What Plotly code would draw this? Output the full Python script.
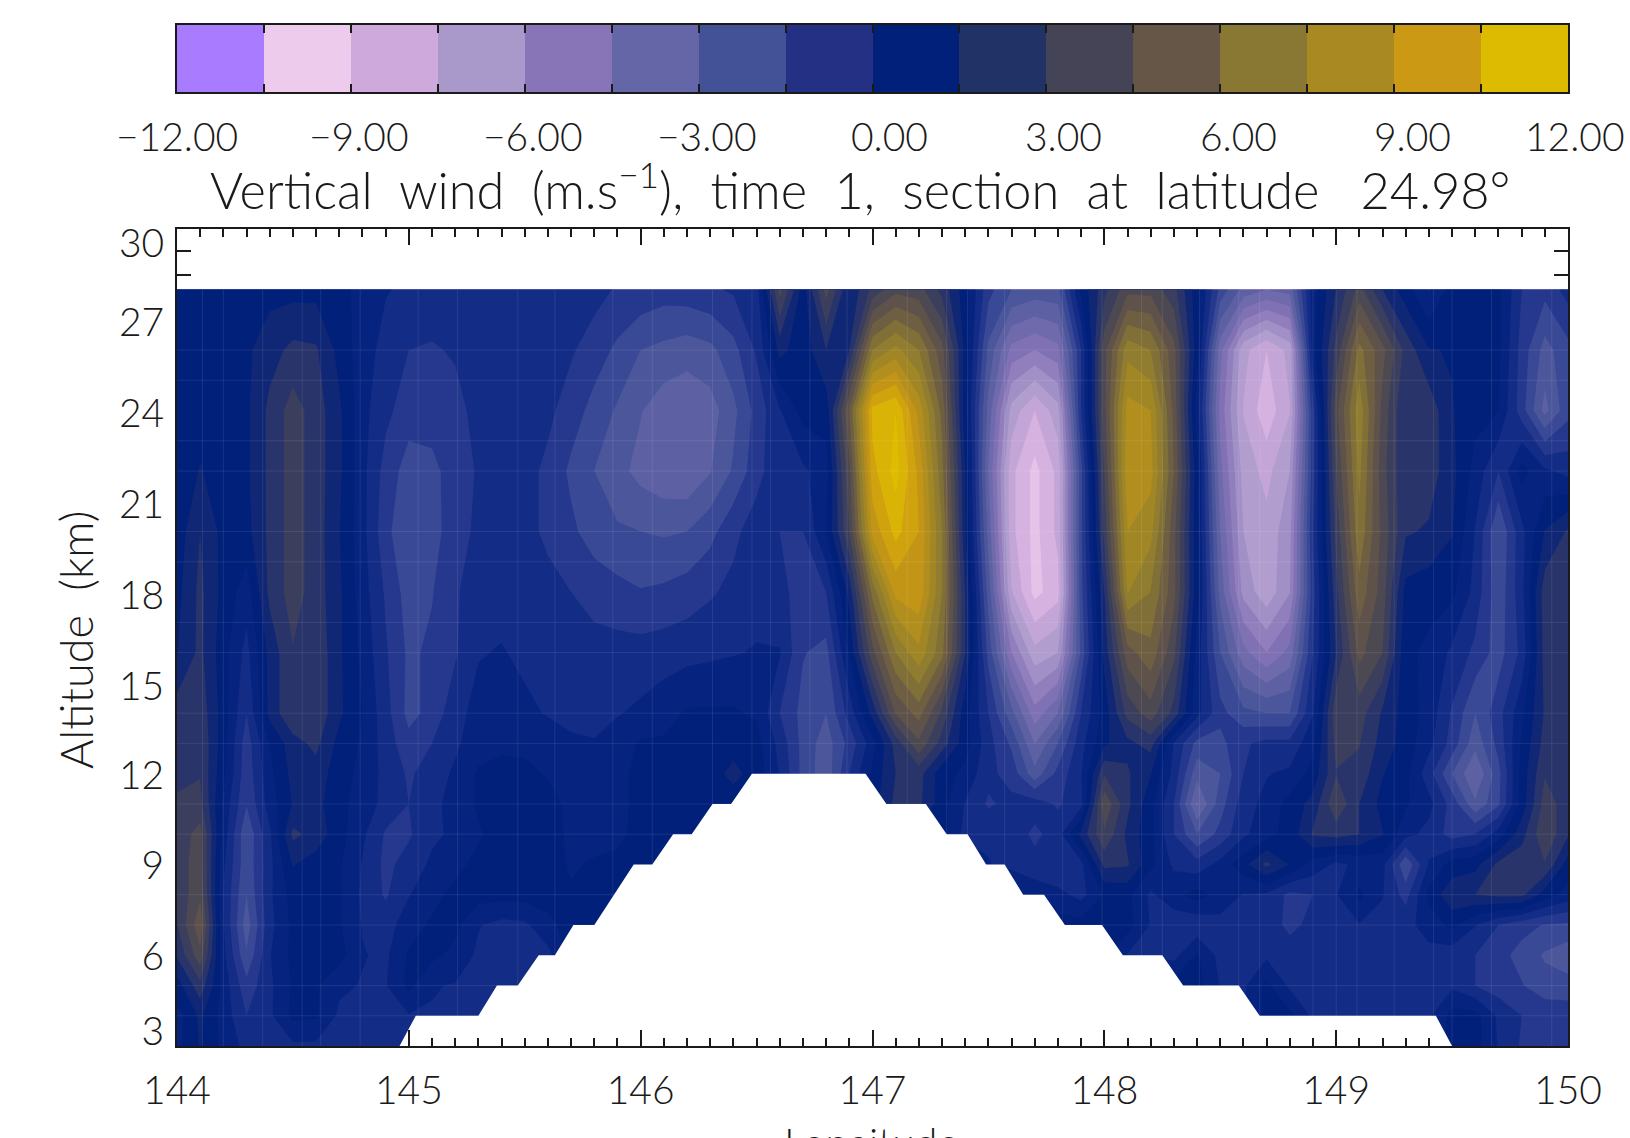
import plotly.graph_objects as go

# ---------------- data (vertical wind, m/s), one row per altitude, lon 144.0 .. 150.0 by 0.1 ----------------
longitudes = [round(144 + i * 0.1, 1) for i in range(61)]
altitudes = [3, 4, 5, 6, 7, 8, 9, 10, 11, 12, 13, 14, 16, 18, 20, 22, 24, 26, 28]

w_03 = [-.2,.8,-.2,-1,-.9,-.9,-.9,-.9,-.9,-.9,
        -.9,-.9,-.9,-.9,-.9,-.9,-.9,-.9,-.9,-.9,
        -.9,-.9,-.9,-.9,-.9,-.9,-.9,-.9,-.9,-.9,
        -.9,-.9,-.9,-.9,-.9,-.9,-.9,-.9,-.9,-.9,
        -.9,-.9,-.9,-.9,-.9,-.9,-.9,-.9,-.9,-.9,
        -.9,-.9,-.9,-.9,-.9,.3,.3,-.8,-1.6,-1.6,-1.6]
w_04 = [-.3,.9,-.3,-1.5,-.9,.2,.1,-.9,-.9,-.9,
        -.8,-.8,-.8,-.8,-.8,-.8,-.8,-.8,-.8,-.8,
        -.8,-.8,-.8,-.8,-.8,-.8,-.8,-.8,-.8,-.8,
        -.8,-.8,-.8,-.8,-.8,-.8,-.8,-.8,-.8,-.8,
        -.8,-.8,-.8,-.8,-.8,-.8,-.8,.2,.2,-.9,
        -1,-1,-1,-1,-.9,.3,.3,-.9,-1.5,-1.7,-1.8]
w_05 = [.4,2,-.3,-2,-.9,.1,.1,-.6,-.8,-.8,
        .2,-.7,-.8,-.9,-.9,-.9,-.9,.3,.3,.3,
        .3,.3,.3,.3,.3,.3,.3,.3,.3,.3,
        .3,.3,.3,.3,.3,.3,.3,.3,.3,.3,
        .3,.3,.3,.3,.3,-.8,-.9,.2,-.9,-1,
        -1,-1,-1,-1,-1.5,-.9,-1.5,-1.9,-2.2,-2.7,-2.7]
w_06 = [1.6,3.5,-.5,-2.9,-.8,.2,.1,.3,-.7,-.9,
        .1,.2,-.2,-.9,-1,-1,-1,.3,.3,.3,
        .3,.3,.3,.3,.3,.3,.3,.3,.3,.3,
        .3,.3,.3,.3,.3,.3,.3,.3,.3,.3,
        .3,-.8,-.8,-1,.1,-1,-.9,-.9,-1.1,-1.1,
        -1,-1,-1,-1,-1,-1.2,-1.5,-2,-2.5,-3.1,-3.5]
w_07 = [2.2,4.3,-.7,-3.4,-1,.2,.1,.1,-.8,-1.1,
        -.3,.1,.2,-.7,-1,-.9,-.2,.3,.3,.3,
        .3,.3,.3,.3,.3,.3,.3,.3,.3,.3,
        .3,.3,.3,.3,.3,.3,.3,.3,.3,.3,
        .3,.3,-.8,-1.3,-1.3,-1,-.9,-1.1,-1.7,-1.3,
        -1,-.8,-1,-1,-.4,.2,-.7,-1.5,-2,-2.3,-2.4]
w_08 = [2.4,3.6,-.8,-3,-.9,.3,.2,.1,-.9,-1.6,
        -.8,-.2,.2,.3,.3,.3,.3,.1,.3,.3,
        .3,.3,.3,.3,.3,.3,.3,.3,.3,.3,
        .3,.3,.3,.3,.3,.3,.3,-.3,-.5,-1,
        .1,.2,-.9,-.2,.3,-.3,-.8,-.9,-1.7,-1.5,
        -.8,.2,-.7,-1.8,.2,1.3,1.5,1.7,1.7,.4,-.3]
w_09 = [2.6,3.4,-.6,-2.8,-1,.8,.4,.1,-.8,-1.7,
        -1.2,-.6,-.2,.2,.4,.5,.4,-.1,.1,.2,
        .3,.3,.3,.3,.3,.3,.3,.3,.3,.3,
        .3,.3,.3,.3,.3,-.7,-1,-1.2,-1.5,-1,
        1.7,1.6,.2,-.9,-1.2,-.5,.5,1.7,.7,-.3,
        -.9,-.6,-.5,-2.9,-.7,.3,.5,1.7,2,2.2,.4]
w_10 = [2.5,3.3,-.3,-2.9,-.9,1.7,1.2,.3,-.6,-1.6,
        -1.6,-.9,-.6,-.1,.4,.5,.4,-.2,-.3,-.2,
        .3,.3,.3,.3,.3,.3,.3,.3,.3,.3,
        .3,.3,.3,.3,-1,-.9,-1,-1.7,-1.1,1,
        2.9,1.3,.2,-1.5,-3,-2,-.9,-.3,.3,1.6,
        1.8,1.5,.8,-.5,-1,-1.8,-1.5,-.4,1.2,2.9,1.6]
w_11 = [2.4,2.5,-.2,-2.2,-.4,.8,1,.2,-.3,-1,
        -1.5,-1,-.4,.1,.4,.5,.4,-.3,-.4,-.2,
        .2,.4,.3,.3,.3,.3,.3,.3,.3,.3,
        .4,1.7,1.7,.3,-.8,-1.6,-1.3,-1.1,-1.6,-1,
        3.6,1.7,.2,-1.5,-4.6,-2.6,-1.1,-.5,.3,1,
        2.9,1.5,.5,.1,-.5,-1.8,-3.6,-2.4,.3,2.6,1.9]
w_12 = [2,2.2,.2,-2,-.2,1,1.2,.3,-.2,-1,
        -1.6,-1.2,-.6,.1,.3,.3,-.1,-.4,-.5,-.2,
        .2,.4,.3,.4,1,.4,-.8,-2.5,-3.5,-1.5,
        .2,1.5,1.8,.3,-.2,-1.3,-1.8,-3.5,-2,-.8,
        2.2,1.6,.8,-1,-3.5,-3,-1.5,-.8,-.6,.3,
        2.2,2,.8,.2,-1.2,-3,-4.5,-2.5,.3,2.2,1.8]
w_13 = [2,2.2,.3,-1.9,0,1.2,1.7,.5,-.1,-1.1,
        -2,-1.5,-.9,-.3,-.2,-.3,-.4,-.6,-.7,-.4,
        .1,.1,.2,.3,.4,.3,-1,-2.5,-3.4,-2,
        -.3,1.8,3.6,1.9,.3,-1.2,-2.4,-4.5,-3,-1,
        .6,1.3,1.8,-.8,-2.5,-2.5,-1.6,-1.3,-1.3,-.2,
        2.5,2.3,1.2,.4,-.5,-1.8,-3.5,-2,.1,1.8,2]
w_14 = [1.9,2,.4,-1.5,1,2.2,2.1,.9,0,-1.2,
        -2.5,-2,-1,-.5,-.5,-.6,-.8,-1,-1,-.8,
        -.6,-.3,.1,.1,.1,-.1,-1.5,-2.5,-3,-1.2,
        1,3.8,4.8,2.8,.3,-1.5,-3.5,-5.7,-4.5,-1.5,
        .3,2.5,3.4,2,-.5,-2,-2.8,-3,-3,-.8,
        2.8,2.6,1.4,.4,-.3,-1.6,-3,-1.8,-.2,1.6,1.9]
w_16 = [.7,1.7,.3,-1,1,2.2,2.1,.9,-.2,-1.4,
        -2.4,-2.1,-1.6,-.8,-.7,-.9,-1,-1.1,-1.2,-1.2,
        -1.2,-1.1,-1,-.9,-.8,-.7,-.7,-2.2,-2.5,.1,
        3.5,6,7.3,5.5,1.5,-2.5,-6,-8,-7.5,-2.8,
        1,4.2,5,3.2,-.3,-3,-5,-6,-5,-1.5,
        1.5,4,3,.2,-.2,-.9,-1.7,-2.6,-1.3,1.8,2.2]
w_18 = [.5,1.7,.5,-.4,1.7,2.6,1.9,.9,-.4,-1.6,
        -2.6,-2.3,-1.6,-1.1,-1,-1,-1.2,-1.5,-1.8,-2,
        -2.2,-2.1,-1.9,-1.6,-1.3,-1,-1.3,-1.8,-1.5,1,
        5.5,8.5,8.8,6,1.5,-3.3,-8.2,-10,-9.3,-2.5,
        1.5,6.8,6,4,.3,-4,-7,-8,-6.8,-1.8,
        2,5,3.4,.5,.3,.2,-1,-2.8,-1,1.9,2]
w_20 = [.3,1.5,.5,.5,1.7,2.6,1.9,.8,-.5,-2,
        -3,-2.5,-1.9,-1.3,-1.1,-1.2,-1.7,-2.1,-2.6,-2.9,
        -3,-3.1,-3,-2.5,-1.7,-1.1,-1.5,-1.5,0,3,
        8.5,10,9,6,.9,-4,-8.8,-10,-8.8,-2.4,
        2.5,7.5,7,4,.2,-4.5,-7.5,-8,-7,-1.5,
        2.5,5.8,3.5,1.6,1.4,.8,-.8,-3,-1,.8,1.6]
w_22 = [.2,.8,.4,.6,1.7,2.6,1.9,.9,-.5,-1.8,
        -2.6,-2.4,-2,-1.4,-1.1,-1.2,-1.7,-2.4,-3,-3.5,
        -4,-4.3,-4.4,-3.8,-2.9,-1.8,-.9,-.9,-.3,3.5,
        9.5,10.8,8.8,5.5,.8,-4.5,-8.8,-10,-8.8,-2.5,
        3,8,7.8,4.5,.3,-5,-7.8,-8.5,-7.5,-1.8,
        3,6.2,3.3,1.6,1.9,1,-.3,-1.5,.3,-.6,-1]
w_24 = [.2,.4,.5,.6,1.7,2.6,1.9,.9,-.5,-1.3,
        -1.9,-2,-1.8,-1.2,-1,-1,-1.3,-1.9,-2.5,-3.1,
        -3.7,-4.2,-4.4,-4.1,-3.2,-2,-.8,.3,.3,4.5,
        10,10.5,8,5,.3,-4,-7.8,-9,-7.8,-1.5,
        3.5,7.8,7.5,4.3,-.3,-5.5,-8.3,-9.5,-8.3,-1.8,
        3.5,6.5,3.5,1.5,2,.8,.3,0,-1.9,-4,-2.5]
w_26 = [.3,.5,.6,.6,1.2,1.7,1.6,.5,-.4,-1,
        -1.5,-1.6,-1.4,-1,-.9,-.9,-1,-1.4,-1.9,-2.4,
        -3,-3.2,-3.4,-3.2,-2.5,-1.4,1,.3,1.5,1.5,
        6,7,6,4,.5,-3.2,-5.5,-6,-5.5,-1.5,
        3.5,6.5,6,4,.3,-5,-8,-9,-8,-.3,
        2.5,5.5,4,2,.8,.7,.3,.2,-1.8,-3.3,-2.5]
w_28 = [.3,.5,.6,.6,.5,.5,.5,.3,-.3,-.7,
        -.9,-.9,-.9,-.9,-.8,-.8,-.8,-1,-1.2,-1.6,
        -1.7,-1.9,-1.8,-1.6,-1.4,-1.1,3.3,.4,3.3,.8,
        2.5,3.5,3.3,2,.3,-2,-3,-3.3,-3.2,.2,
        2,3.5,3.5,2.5,.3,-2.5,-4,-4.5,-4.2,-.3,
        1.5,3.3,1.5,.3,-.8,.3,.3,.2,-1.5,-2,-1.2]
wind = [w_03, w_04, w_05, w_06, w_07, w_08, w_09, w_10, w_11, w_12,
        w_13, w_14, w_16, w_18, w_20, w_22, w_24, w_26, w_28]

# terrain outline (masked by the model's lowest levels)
terrain_lon = [144.96,145.03,145.30,145.38,145.47,145.56,145.63,145.71,145.80,145.97,146.05,146.14,146.22,
               146.31,146.39,146.48,146.97,147.06,147.23,147.32,147.41,147.49,147.57,147.65,147.74,147.83,
               147.99,148.08,148.25,148.34,148.58,148.67,149.43,149.50]
terrain_alt = [3,4,4,5,5,6,6,7,7,9,9,10,10,11,11,12,12,11,11,10,10,9,9,8,8,7,7,6,6,5,5,4,4,3]

# faint seams of the model grid
seam_lon = [144.11,144.2,144.37,144.54,144.62,144.79,145.04,145.21,145.47,145.63,145.88,146.05,146.31,146.48,
            146.56,146.73,146.89,147.15,147.32,147.41,147.57,147.82,147.99,148.16,148.25,148.41,148.58,148.67,
            148.9,149.0,149.09,149.25,149.42,149.5,149.67,149.93]
seam_alt = [4,5,7,8,10,11,13,14,16,17,19,20,22,23,25,26]

# colour bar
bar_edges = [-12,-10.5,-9,-7.5,-6,-4.5,-3,-1.5,0,1.5,3,4.5,6,7.5,9,10.5,12]
bar_colors = ["#A97BFF","#EDCBEC","#CDA9DC","#A999CB","#8775B8","#6566A7","#435297","#243084",
              "#00207A","#213266","#444456","#665647","#887833","#A98A22","#CB9913","#DDBB00"]
bar_label_vals = [-12,-9,-6,-3,0,3,6,9,12]
bar_label_text = ["−12.00","−9.00","−6.00","−3.00","0.00","3.00","6.00","9.00","12.00"]
bar_label_shift = [0,8,8,8,17,17,18,18,7]

# field colours (finer shading than the bar)
field_vals = [-12,-11,-10.5,-9,-7.5,-6,-4.5,-3,-2.25,-1.5,-.75,0,.75,1.5,3,4.5,6,7.5,9,10.5,12]
field_cols = ["#A97BFF","#A97BFF","#EDCBEC","#CDA9DC","#A999CB","#8775B8","#6566A7","#435297","#2F3F93","#1A3189","#0C2783",
              "#00207A","#00207A","#1F2E70","#444456","#665647","#887833","#A98A22","#CB9913","#DDBB00","#E6BE00"]

y_label_pos = [3.48,5.95,8.97,11.95,14.9,17.9,20.9,23.9,26.9,29.52]
y_label_text = ["3","6","9","12","15","18","21","24","27","30"]
y_minor = [28.48,29.27]
x_major = [144,145,146,147,148,149,150]
x_bottom_minor = [round(145 + i * 0.1, 1) for i in range(45) if i % 10]

FONT = "Lato"
INK = "#1a1a1a"
W, H = 1630, 1138
L, R, T, B = 177, 62, 25, 92
PW, PH = W - L - R, H - T - B

def px(x): return (x - L) / PW
def py(y): return (H - B - y) / PH

fig = go.Figure()
fig.add_trace(go.Contour(
    x=longitudes, y=altitudes, z=wind, zmin=-12, zmax=12, autocontour=False,
    contours=dict(start=-12, end=12, size=0.75, coloring="fill", showlines=False),
    line=dict(width=0, smoothing=0), showscale=False, hoverinfo="skip",
    colorscale=[[(v + 12) / 24, c] for v, c in zip(field_vals, field_cols)],
))

sx, sy = [], []
for v in seam_lon:
    sx += [v, v, None]; sy += [3, 28, None]
for a in seam_alt:
    sx += [144, 150, None]; sy += [a, a, None]
fig.add_trace(go.Scatter(x=sx, y=sy, mode="lines", line=dict(color="rgba(255,255,255,0.09)", width=1),
                         showlegend=False, hoverinfo="skip"))

fig.add_trace(go.Scatter(x=terrain_lon, y=terrain_alt, xaxis="x2", yaxis="y", mode="lines", fill="toself",
                         fillcolor="white", line=dict(width=0, color="white"),
                         showlegend=False, hoverinfo="skip"))

n = len(bar_colors)
step = []
for i, c in enumerate(bar_colors):
    step += [[i / n, c], [(i + 1) / n, c]]
fig.add_trace(go.Heatmap(x=bar_edges, y=[0, 1], z=[[(a + b) / 2 for a, b in zip(bar_edges, bar_edges[1:])]],
                         xaxis="x3", yaxis="y3", zmin=-12, zmax=12, colorscale=step,
                         showscale=False, hoverinfo="skip"))

tick_font = dict(family=FONT, size=39, color=INK, weight=300)
title_font = dict(family=FONT, size=50.5, color=INK, weight=300)
ytitle_font = dict(family=FONT, size=45, color=INK, weight=300)
xtitle_font = dict(family=FONT, size=41, color=INK, weight=300)
axis_line = dict(showline=True, linecolor=INK, linewidth=2)

fig.update_layout(
    width=W, height=H, margin=dict(l=L, r=R, t=T, b=B, pad=0), paper_bgcolor="white", plot_bgcolor="white",
    showlegend=False,
    xaxis=dict(domain=[0, 1], range=[144, 150], side="top", anchor="y", mirror=True, layer="above traces",
               tickmode="array", tickvals=x_major, ticks="inside", ticklen=16, tickwidth=1.5, tickcolor=INK,
               showticklabels=False, showgrid=False, zeroline=False,
               minor=dict(dtick=0.1, tick0=144, ticks="inside", ticklen=8, tickwidth=1.5, tickcolor=INK, showgrid=False),
               **axis_line),
    xaxis2=dict(domain=[0, 1], range=[144, 150], side="bottom", anchor="y", overlaying="x", layer="above traces",
                tickmode="array", tickvals=x_major, ticktext=[str(v) for v in x_major], ticks="inside",
                ticklen=16, tickwidth=1.5, tickcolor=INK, tickfont=tick_font, ticklabelstandoff=9,
                showgrid=False, zeroline=False,
                minor=dict(tickmode="array", tickvals=x_bottom_minor, ticks="inside", ticklen=8, tickwidth=1.5,
                           tickcolor=INK, showgrid=False),
                **axis_line),
    yaxis=dict(domain=[0, py(229)], range=[3, 30], anchor="x", mirror="ticks", layer="above traces",
               tickmode="array", tickvals=y_label_pos, ticktext=y_label_text, ticks="", tickfont=tick_font,
               ticklabelstandoff=3, showgrid=False, zeroline=False,
               minor=dict(tickmode="array", tickvals=y_minor, ticks="inside", ticklen=14, tickwidth=1.5,
                          tickcolor=INK, showgrid=False),
               **axis_line),
    xaxis3=dict(domain=[0, 1], range=[-12, 12], anchor="y3", mirror="ticks", layer="above traces",
                tickmode="array", tickvals=bar_edges, ticks="inside", ticklen=8, tickwidth=1.5, tickcolor=INK,
                showticklabels=False, showgrid=False, zeroline=False, **axis_line),
    yaxis3=dict(domain=[py(92), 1], range=[0, 1], anchor="x3", mirror=True, ticks="", showticklabels=False,
                showgrid=False, zeroline=False, **axis_line),
)

for v, t, s in zip(bar_label_vals, bar_label_text, bar_label_shift):
    fig.add_annotation(x=v, xref="x3", y=py(136), yref="paper", text=t, showarrow=False, xshift=s,
                       xanchor="center", yanchor="middle", font=tick_font)

fig.add_annotation(x=px(860), xref="paper", y=py(186), yref="paper", showarrow=False, xanchor="center",
                   yanchor="middle", font=title_font,
                   text="Vertical  wind  (m.s<sup>−1</sup>),  time  1,  section  at  latitude   24.98°")
fig.add_annotation(x=px(76), xref="paper", y=py(640), yref="paper", showarrow=False, textangle=-90,
                   xanchor="center", yanchor="middle", font=ytitle_font, text="Altitude  (km)")
fig.add_annotation(x=px(871), xref="paper", y=py(1142), yref="paper", showarrow=False, xanchor="center",
                   yanchor="middle", font=xtitle_font, text="Longitude")

fig.write_html("out.html", config={"displayModeBar": False},
               post_script="document.body.style.margin='0';document.documentElement.style.overflow='hidden';")
